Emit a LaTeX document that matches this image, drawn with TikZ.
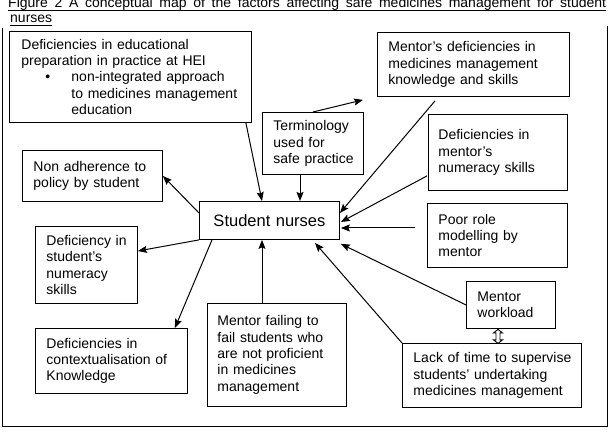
\documentclass[tikz,border=0pt]{standalone}
\usepackage{fontspec}
\setmainfont{Liberation Sans}
\usetikzlibrary{arrows.meta,calc}
\newcommand{\nb}[1]{\mbox{#1}}
\begin{document}
\begin{tikzpicture}[x=1pt,y=-1pt,
  box/.style={draw, line width=0.9pt, anchor=north west, align=left, inner xsep=11pt, inner ysep=0pt, font=\fontsize{14}{16.4}\selectfont},
  arr/.style={line width=1pt, -{Stealth[length=9pt,width=7pt,inset=1.5pt]}},
  ttl/.style={anchor=base west, inner sep=0pt, font=\fontsize{14}{16}\selectfont}]
\useasboundingbox (0,0) rectangle (611,441);
% title
\node[ttl] (t1) at (8,8) {\makebox[598pt][s]{Figure 2 A conceptual map of the factors affecting safe medicines management for student}};
\node[ttl] (t2) at (10,23) {nurses};
\draw[line width=0.8pt] ($(t1.base west)+(0,2.5)$) -- ($(t1.base east)+(0,2.5)$);
\draw[line width=0.8pt] ($(t2.base west)+(0,2.5)$) -- ($(t2.base east)+(0,2.5)$);
% frame
\draw[line width=0.9pt] (2,28) -- (2,426) -- (607,426) -- (607,26);
% boxes
\node[box, inner xsep=12pt, text width=218pt, minimum height=91pt] (edu) at (9,31)
 {\nb{Deficiencies in educational}\\ \nb{preparation in practice at HEI}\\
  \makebox[50pt][l]{\hspace{24pt}\textbullet}\parbox[t]{170pt}{\nb{non-integrated approach}\\ \nb{to medicines management}\\ education}};
\node[box, text width=170pt, minimum height=64pt] (mdef) at (377,32)
 {\nb{Mentor's deficiencies in}\\ \nb{medicines management}\\ \nb{knowledge and skills}};
\node[box, text width=79pt, minimum height=62pt] (term) at (262,112)
 {\nb{Terminology}\\ \nb{used for}\\ \nb{safe practice}};
\node[box, inner xsep=10pt, text width=119pt, minimum height=76pt] (mnum) at (428,114)
 {\nb{Deficiencies in}\\ \nb{mentor's}\\ \nb{numeracy skills}};
\node[box, text width=118pt, minimum height=51pt] (nonadh) at (22,150)
 {\nb{Non adherence to}\\ \nb{policy by student}};
\node[box, align=center, inner xsep=0pt, text width=140pt, minimum height=38pt, font=\fontsize{16.5}{18}\selectfont] (sn) at (199,201)
 {Student nurses};
\node[box, text width=118pt, minimum height=64pt] (poor) at (427,203)
 {\nb{Poor role}\\ \nb{modelling by}\\ \nb{mentor}};
\node[box, text width=80pt, minimum height=77pt] (snum) at (35,226)
 {\nb{Deficiency in}\\ \nb{student’s}\\ \nb{numeracy}\\ \nb{skills}};
\node[box, text width=67pt, minimum height=47pt] (work) at (466,281)
 {\nb{Mentor}\\ \nb{workload}};
\node[box, text width=130pt, minimum height=65pt] (ctx) at (35,328)
 {\nb{Deficiencies in}\\ \nb{contextualisation of}\\ \nb{Knowledge}};
\node[box, inner xsep=10pt, text width=119pt, minimum height=103pt] (fail) at (207,303)
 {\nb{Mentor failing to}\\ \nb{fail students who}\\ \nb{are not proficient}\\ \nb{in medicines}\\ \nb{management}};
\node[box, text width=157pt, minimum height=64pt] (lack) at (402,343)
 {\nb{Lack of time to supervise}\\ \nb{students’ undertaking}\\ \nb{medicines management}};
% connectors
\draw[arr] ($(edu.south east)+(-6,0)$) -- ($(sn.north west)+(63,0)$);
\draw[arr] ($(term.south west)+(38,0)$) -- ($(sn.north west)+(101,0)$);
\coordinate (tfree) at ($(mdef.south west)+(-14,3)$);
\draw[arr] ($(term.north west)+(51,0)$) -- (tfree);
\draw[arr] ($(mdef.south west)+(58,4)$) -- ($(sn.north east)+(0,12)$);
\draw[arr] ($(mnum.south west)+(-1,-15)$) -- ($(sn.north east)+(1,21)$);
\draw[arr] ($(poor.north west)+(-12,25)$) -- ($(sn.north east)+(1,27)$);
\draw[arr] (work.west) -- ($(sn.south east)+(1,4)$);
\draw[arr] (lack.north west) -- ($(sn.south west)+(116,3)$);
\draw[arr] ($(fail.north west)+(55,0)$) -- ($(sn.south west)+(63,0)$);
\draw[arr] ($(sn.north west)+(0,12)$) -- (nonadh.east);
\draw[arr] (sn.south west) -- ($(snum.north east)+(0,25)$);
\draw[arr] ($(sn.south west)+(13,0)$) -- ($(ctx.north east)+(-13,0)$);
% hollow double arrow between workload and lack of time
\coordinate (dbl) at ($(work.south west)+(32,7.5)$);
\draw[line width=0.9pt, fill=white, shift={(dbl)}]
  (0,-7) -- (4.5,-3.5) -- (2,-3.5) -- (2,3.5) -- (4.5,3.5) -- (0,7) -- (-4.5,3.5) -- (-2,3.5) -- (-2,-3.5) -- (-4.5,-3.5) -- cycle;
\end{tikzpicture}
\end{document}
